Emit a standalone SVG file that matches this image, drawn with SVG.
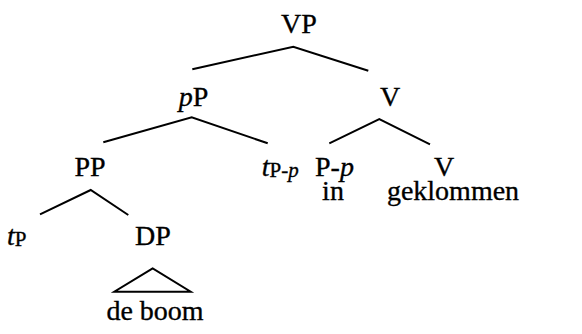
<svg xmlns="http://www.w3.org/2000/svg" width="582" height="334" viewBox="0 0 582 334">
<style>
text{font-family:"Liberation Serif","Times New Roman",serif;font-size:28px;fill:#000;stroke:#000;stroke-width:0.35}
.c{text-anchor:middle}
.i{font-style:italic}
.s{font-size:21px}
.e{stroke:#000;stroke-width:2;fill:none;stroke-linecap:butt}
</style>
<rect width="582" height="334" fill="#fff"/>
<g id="connectors">
<polyline class="e" points="192.3,69.3 293.3,46.7 368.3,70.7"/>
<polyline class="e" points="103.3,142.3 191.7,117.3 267.7,143.3"/>
<polyline class="e" points="329.3,143.3 379.3,119 430,144.3"/>
<polyline class="e" points="40,214.3 90.7,190 128.3,215"/>
<polygon class="e" points="152.7,268.3 114.3,291.7 190.7,291.7"/>
</g>
<g id="VP"><text class="c" x="299" y="33">VP</text></g>
<g id="pP"><text class="c" x="193.5" y="106"><tspan class="i">p</tspan>P</text></g>
<g id="V1"><text class="c" x="390" y="106">V</text></g>
<g id="PP"><text class="c" x="90" y="176">PP</text></g>
<g id="tPp"><text x="261.7" y="176"><tspan class="i">t</tspan><tspan class="s" dy="1">P-</tspan><tspan class="s i">p</tspan></text></g>
<g id="Pp"><text x="315" y="176">P-<tspan class="i">p</tspan></text><text class="c" x="333" y="200">in</text></g>
<g id="V2"><text class="c" x="444" y="176">V</text><text class="c" x="453" y="200">geklommen</text></g>
<g id="tP"><text x="7" y="245"><tspan class="i">t</tspan><tspan class="s" dy="1">P</tspan></text></g>
<g id="DP"><text class="c" x="153" y="245">DP</text><text class="c" x="155" y="320">de boom</text></g>
</svg>
